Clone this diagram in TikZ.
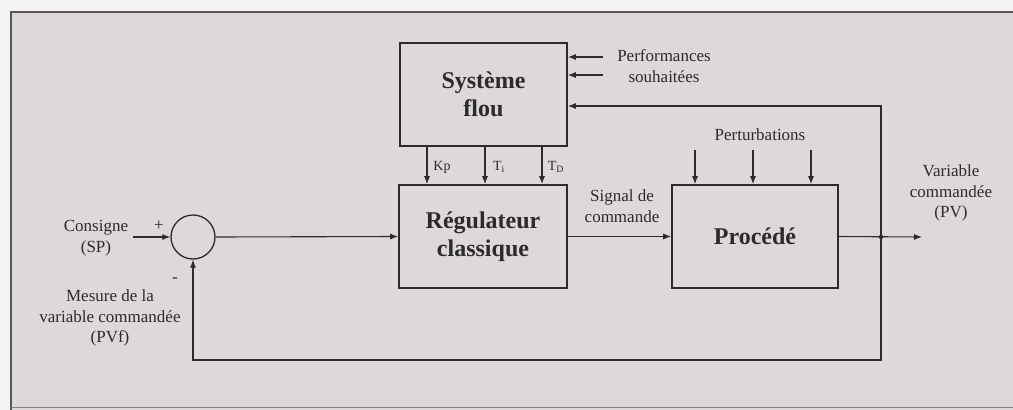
\documentclass[tikz,border=0pt]{standalone}
\usepackage{fontspec}
\setmainfont{Liberation Serif}
\usetikzlibrary{arrows.meta,calc}
\definecolor{panel}{RGB}{220,216,220}
\definecolor{outside}{RGB}{244,242,244}
\definecolor{ink}{RGB}{45,42,45}
\tikzset{
  blk/.style={draw=ink,line width=1.6pt,rectangle,inner sep=0pt,align=center,font=\fontsize{24}{28}\selectfont\bfseries,text=ink},
  sm/.style={font=\fontsize{17}{20.5}\selectfont,align=center,text=ink,inner sep=0pt},
  tiny/.style={font=\fontsize{14}{16}\selectfont,text=ink,inner sep=0pt},
  wire/.style={draw=ink,line width=1.1pt},
  arr/.style={wire,-{Latex[length=8pt,width=6pt]}}
}
\begin{document}
\begin{tikzpicture}[x=1pt,y=-1pt]
\useasboundingbox (0,0) rectangle (1013,410);
\fill[outside] (0,0) rectangle (1013,410);
\fill[panel] (11,12) rectangle (1013,410);
\draw[ink!80,line width=2pt] (11,410) -- (11,12) -- (1013,12);
\draw[ink!60,line width=1pt] (11,407) -- (1013,407);

% blocks
\node[blk,minimum width=167pt,minimum height=103pt] (flou) at (483.5,94.5) {Système\\flou};
\node[blk,minimum width=168pt,minimum height=103pt] (reg) at (483,236.5) {Régulateur\\classique};
\node[blk,minimum width=166pt,minimum height=103pt] (proc) at (755,236.5) {Procédé};
\node[draw=ink,line width=1.3pt,circle,minimum size=44pt,inner sep=0pt] (sum) at (193,237) {};

% coordinates
\coordinate (sp) at (133,237);
\coordinate (j) at (881,237);
\coordinate (pv) at (922,237);
\coordinate (jb) at (881,360);
\coordinate (jt) at (881,106);
\coordinate (p1) at (603,57);
\coordinate (p2) at (603,75);
\coordinate (d1) at (695,150);
\coordinate (d2) at (753,150);
\coordinate (d3) at (811,150);

% main path
\draw[arr] (sp) -- (sum.west);
\draw[arr] (sum.east) -- (reg.west);
\draw[arr] (reg.east) -- (proc.west);
\draw[arr] (proc.east) -- (pv);
\fill[ink] (j) circle (2.2pt);
\draw[arr] (j) -- (jb) -| (sum.south);
\draw[arr] (j) -- (jt) -- (flou.east |- jt);

% performances
\draw[arr] (p1) -- (flou.east |- p1);
\draw[arr] (p2) -- (flou.east |- p2);

% perturbations
\draw[arr] (d1) -- (proc.north -| d1);
\draw[arr] (d2) -- (proc.north -| d2);
\draw[arr] (d3) -- (proc.north -| d3);

% gains
\draw[arr] (flou.south -| 427,0) -- (reg.north -| 427,0);
\draw[arr] (flou.south -| 485,0) -- (reg.north -| 485,0);
\draw[arr] (flou.south -| 542,0) -- (reg.north -| 542,0);

% labels
\node[tiny] (lkp) at (442,167) {Kp};
\node[tiny] (lti) at (499,167) {T\textsubscript{i}};
\node[tiny] (ltd) at (556,167) {T\textsubscript{D}};
\node[sm] (lcons) at (96,238) {Consigne\\(SP)};
\node[sm] (lplus) at (159,226) {+};
\node[sm] (lminus) at (175,280) {-};
\node[sm] (lmes) at (110,318) {Mesure de la\\variable commandée\\(PVf)};
\node[sm] (lperf) at (664,66) {Performances\\souhaitées};
\node[sm] (lpert) at (760,135) {Perturbations};
\node[sm] (lsig) at (622,206) {Signal de\\commande};
\node[sm] (lpv) at (951,193) {Variable\\commandée\\(PV)};
\end{tikzpicture}
\end{document}
